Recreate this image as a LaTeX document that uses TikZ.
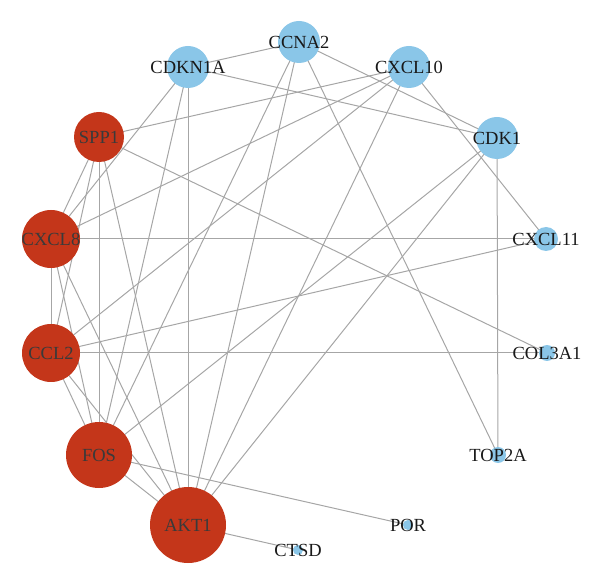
\documentclass[tikz,border=0pt]{standalone}
\usepackage{fontspec}
\setmainfont{Liberation Serif}
\usetikzlibrary{backgrounds}
\definecolor{hubred}{HTML}{C4361A}
\definecolor{genblue}{HTML}{8AC6E8}
\definecolor{edgegray}{HTML}{A6A6A6}
\definecolor{hubtext}{HTML}{3A3A3A}
\begin{document}
\begin{tikzpicture}[x=1pt,y=-1pt,
  gene/.style={circle,fill=genblue,draw=none,inner sep=0pt,minimum size=#1},
  hub/.style={circle,fill=hubred,draw=none,inner sep=0pt,minimum size=#1},
  glab/.style={font=\fontsize{18.5}{19}\selectfont,text=black!90},
  hlab/.style={font=\fontsize{18.5}{19}\selectfont,text=hubtext},
  edge/.style={draw=edgegray,line width=1pt}]
\useasboundingbox (0,0) rectangle (600,585);
% blue nodes
\node[gene=42pt,label={[glab]center:CCNA2}] (ccna2) at (299,42) {};
\node[gene=42pt,label={[glab]center:CXCL10}] (cxcl10) at (409,67) {};
\node[gene=42pt,label={[glab]center:CDK1}] (cdk1) at (497,138) {};
\node[gene=42pt,label={[glab]center:CDKN1A}] (cdkn1a) at (188,67) {};
\node[gene=24pt,label={[glab]center:CXCL11}] (cxcl11) at (546,239) {};
\node[gene=16pt,label={[glab]center:COL3A1}] (col3a1) at (547,353) {};
\node[gene=16pt,label={[glab]center:TOP2A}] (top2a) at (498,455) {};
\node[gene=10pt,label={[glab]center:POR}] (por) at (408,525) {};
\node[gene=10pt,label={[glab]center:CTSD}] (ctsd) at (298,550) {};
% red hubs
\node[hub=76pt,label={[hlab]center:AKT1}] (akt1) at (188,525) {};
\node[hub=66pt,label={[hlab]center:FOS}] (fos) at (99,455) {};
\node[hub=58pt,label={[hlab]center:CCL2}] (ccl2) at (51,353) {};
\node[hub=58pt,label={[hlab]center:CXCL8}] (cxcl8) at (51,239) {};
\node[hub=50pt,label={[hlab]center:SPP1}] (spp1) at (99,137) {};
\begin{pgfonlayer}{background}
\foreach \a/\b in {ccna2/cdkn1a, ccna2/cdk1, ccna2/top2a, ccna2/akt1, ccna2/fos,
  cdkn1a/cdk1, cdkn1a/akt1, cdkn1a/fos, cdkn1a/cxcl8,
  cxcl10/spp1, cxcl10/cxcl8, cxcl10/ccl2, cxcl10/akt1, cxcl10/cxcl11,
  cdk1/top2a, cdk1/fos, cdk1/akt1,
  cxcl11/cxcl8, cxcl11/ccl2,
  col3a1/spp1, col3a1/ccl2,
  por/fos, ctsd/akt1,
  spp1/cxcl8, spp1/ccl2, spp1/fos, spp1/akt1,
  cxcl8/ccl2, cxcl8/fos, cxcl8/akt1,
  ccl2/fos, ccl2/akt1, fos/akt1}
  \draw[edge] (\a.center) -- (\b.center);
\end{pgfonlayer}
\end{tikzpicture}
\end{document}
